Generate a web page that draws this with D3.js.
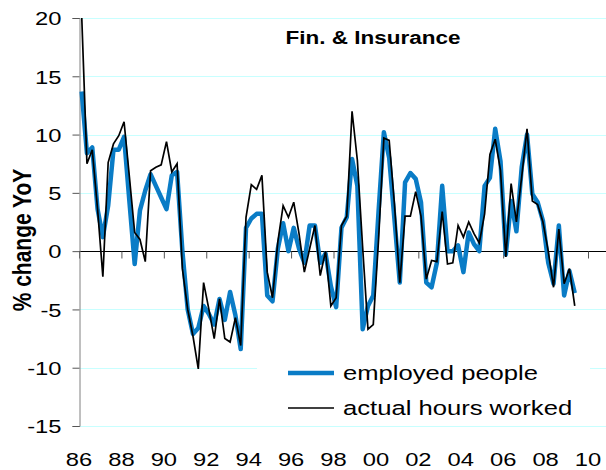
<!DOCTYPE html>
<html>
<head>
<meta charset="utf-8">
<script src="https://cdn.jsdelivr.net/npm/d3@7"></script>
<style>
  body { margin: 0; background: #fff; }
  text { font-family: "Liberation Sans", Arial, sans-serif; fill: #000; }
</style>
</head>
<body>
<div id="canvas"></div>
<script>
"use strict"

/* Data: quarterly % change YoY, 1986Q1 - 2009Q2 */
let startYear = 1986;
let employed = [
    13.7, 8.4, 8.9, 3.6, 1.2, 3.9, 8.7, 8.7, 9.8, 4.3, -1.1, 3.5,
    5.2, 6.6, 5.6, 4.6, 3.6, 6.5, 6.8, 0.0, -5.0, -7.1, -6.6, -4.7,
    -5.4, -6.3, -4.1, -5.9, -3.5, -5.5, -8.4, 2.0, 2.8, 3.2, 3.2, -3.8,
    -4.3, 0.2, 2.4, 0.0, 2.0, 0.2, -1.0, 2.2, 2.2, -1.0, -0.2, -3.0,
    -4.8, 2.0, 2.9, 7.9, 5.6, -6.7, -4.7, -3.8, 3.4, 10.2, 8.0, 2.7,
    -2.7, 5.9, 6.7, 6.2, 4.2, -2.7, -3.1, -1.0, 5.6, 0.0, 0.0, 0.5,
    -1.8, 1.6, 0.6, 0.0, 5.6, 6.3, 10.5, 7.7, -0.3, 4.3, 1.7, 7.2,
    10.0, 4.9, 4.2, 2.6, -1.0, -2.8, 2.2, -3.8, -1.7, -3.6
];
let hours = [
    20.3, 7.5, 8.7, 3.6, -2.2, 7.6, 9.2, 9.9, 11.1, 6.4, 1.6, 1.0,
    -0.9, 6.9, 7.2, 7.4, 9.4, 6.8, 7.5, -1.5, -5.0, -7.3, -10.1, -2.7,
    -5.0, -7.5, -4.1, -7.5, -7.8, -5.7, -8.1, 2.9, 5.7, 5.3, 6.5, -1.8,
    -4.0, 0.8, 3.9, 2.9, 4.2, 1.5, -1.8, 0.2, 2.2, -2.1, 0.0, -4.7,
    -4.0, 2.2, 3.0, 12.0, 7.8, 0.3, -6.7, -6.3, 1.0, 9.7, 9.5, 4.0,
    -2.7, 3.0, 3.0, 5.1, 3.0, -2.4, -0.8, -0.9, 3.4, -1.1, -1.0, 2.2,
    1.2, 2.5, 1.5, 0.7, 3.2, 8.3, 9.6, 6.9, -0.5, 5.8, 2.5, 6.4,
    10.5, 4.3, 4.0, 2.5, 0.0, -3.1, 1.9, -2.8, -1.5, -4.7
];
let yTicks = [-15, -10, -5, 0, 5, 10, 15, 20];
let xTicks = [1986, 1988, 1990, 1992, 1994, 1996, 1998, 2000, 2002, 2004, 2006, 2008, 2010];
let seriesNames = ["employed people", "actual hours worked"];
let title = "Fin. & Insurance";
let yTitle = "% change YoY";

/* quarter dates (mid-quarter, decimal years) */
let quarters = employed.map((v, i) => startYear + 0.125 + i * 0.25);

/* Drawing config */
let svgWidth = 606;
let svgHeight = 470;
let plotLeft = 79, plotRight = 606, plotTop = 18, plotBottom = 426;
let stretch = 1.25; // the source picture is widened horizontally
let blue = "#0a7cc6";
let gridColor = "#c8ffff";

let svg = d3.select("#canvas")
    .append("svg")
    .attr("width", svgWidth)
    .attr("height", svgHeight);

let xScale = d3.scaleLinear()
    .domain([1986, 2010])
    .range([plotLeft, 588]);

let yScale = d3.scaleLinear()
    .domain([-15, 20])
    .range([plotBottom, plotTop]);

svg.append("clipPath").attr("id", "plot")
    .append("rect")
    .attr("x", plotLeft).attr("y", plotTop)
    .attr("width", plotRight - plotLeft)
    .attr("height", plotBottom - plotTop);

/* gridlines */
svg.append("g")
    .selectAll("line")
    .data(yTicks.filter(d => d !== 0))
    .join("line")
    .attr("x1", plotLeft + 1)
    .attr("x2", plotRight)
    .attr("y1", d => Math.round(yScale(d)) + 0.5)
    .attr("y2", d => Math.round(yScale(d)) + 0.5)
    .attr("stroke", gridColor)
    .attr("stroke-width", 1);

/* x axis on the zero line */
let xAxis = d3.axisBottom(xScale)
    .tickValues(xTicks)
    .tickSize(7)
    .tickFormat("");
let xAxisG = svg.append("g")
    .attr("transform", `translate(0,${Math.round(yScale(0)) + 0.5})`)
    .call(xAxis);
xAxisG.select(".domain")
    .attr("d", `M${plotLeft},0H${plotRight}`)
    .attr("stroke", "#000");
xAxisG.selectAll(".tick line").attr("stroke", "#555");

/* x labels along the bottom */
svg.append("g")
    .selectAll("text")
    .data(xTicks)
    .join("text")
    .attr("transform", d => `translate(${xScale(d)},466) scale(${stretch},1)`)
    .attr("text-anchor", "middle")
    .attr("font-size", 19)
    .text(d => String(d).slice(2));

/* y axis */
let yAxis = d3.axisLeft(yScale)
    .tickValues(yTicks)
    .tickSize(7)
    .tickPadding(0)
    .tickFormat(d => String(d)); // plain hyphen minus, like the original
let yAxisG = svg.append("g")
    .attr("transform", `translate(${plotLeft + 0.5},0)`)
    .call(yAxis);
yAxisG.select(".domain").attr("stroke", "#808080");
yAxisG.selectAll(".tick line").attr("stroke", "#555");
yAxisG.selectAll(".tick text")
    .attr("x", -18 / stretch)
    .attr("dy", "0.36em")
    .attr("transform", `scale(${stretch},1)`)
    .attr("font-size", 19)
    .attr("font-family", "Liberation Sans, Arial, sans-serif")
    .attr("fill", "#000");

/* series lines */
let line = d3.line()
    .x((d, i) => xScale(quarters[i]))
    .y(d => yScale(d));

let lines = svg.append("g").attr("clip-path", "url(#plot)");
lines.append("path")
    .attr("d", line(employed))
    .attr("fill", "none")
    .attr("stroke", blue)
    .attr("stroke-width", 4.5)
    .attr("stroke-linejoin", "round");
lines.append("path")
    .attr("d", line(hours))
    .attr("fill", "none")
    .attr("stroke", "#000")
    .attr("stroke-width", 1.7)
    .attr("stroke-linejoin", "miter");

/* legend */
let legend = svg.append("g");
legend.append("rect")
    .attr("x", 257).attr("y", 348)
    .attr("width", 333).attr("height", 75)
    .attr("fill", "#fff");
let legendItems = [
    { name: seriesNames[0], color: blue, width: 4.5, y: 373 },
    { name: seriesNames[1], color: "#000", width: 1.7, y: 408 }
];
legend.selectAll("line")
    .data(legendItems)
    .join("line")
    .attr("x1", 288).attr("x2", 334)
    .attr("y1", d => d.y).attr("y2", d => d.y)
    .attr("stroke", d => d.color)
    .attr("stroke-width", d => d.width);
legend.selectAll("text")
    .data(legendItems)
    .join("text")
    .attr("transform", d => `translate(343,${d.y + 7}) scale(${stretch},1)`)
    .attr("font-size", 20.5)
    .text(d => d.name);

/* title */
svg.append("text")
    .attr("transform", `translate(373,44) scale(${stretch},1)`)
    .attr("text-anchor", "middle")
    .attr("font-size", 18)
    .attr("font-weight", "bold")
    .text(title);

/* y axis title */
svg.append("text")
    .attr("transform", `translate(31,240) scale(${stretch},1) rotate(-90)`)
    .attr("text-anchor", "middle")
    .attr("font-size", 21)
    .attr("font-weight", "bold")
    .text(yTitle);
</script>
</body>
</html>
